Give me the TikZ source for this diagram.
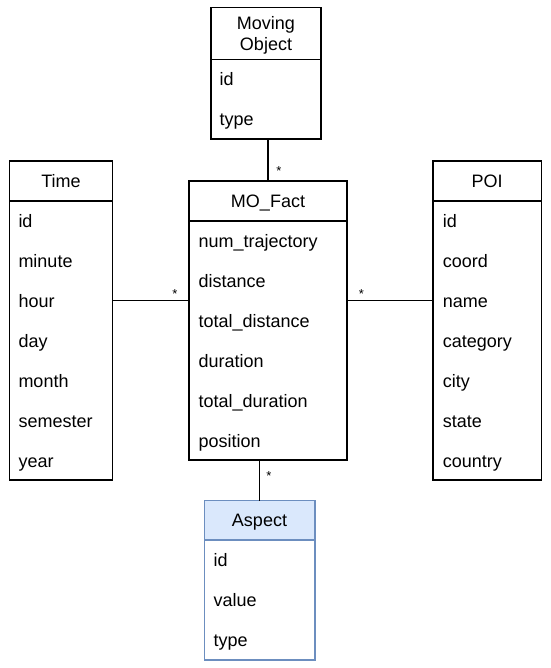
\documentclass[tikz,border=0pt]{standalone}
\usepackage{fontspec}
\setmainfont{Liberation Sans}
\definecolor{asfill}{HTML}{DAE8FC}
\definecolor{asdraw}{HTML}{6C8EBF}
\tikzset{
  box/.style={draw, line width=1.3pt, rectangle, inner sep=0pt, outer sep=0pt, anchor=north west},
  divider/.style={line width=1.3pt},
  item/.style={anchor=base west, inner sep=0pt, font=\fontsize{18}{21}\selectfont},
  ttl/.style={anchor=base, inner sep=0pt, font=\fontsize{18}{21}\selectfont},
  link/.style={line width=1.3pt},
  mult/.style={anchor=base, inner sep=0pt, font=\fontsize{13}{13}\selectfont},
}
\begin{document}
\begin{tikzpicture}[x=1pt,y=-1pt]
\useasboundingbox (0,0) rectangle (550,668);
% boxes
\node[box, minimum width=110pt, minimum height=131.5pt] (mo) at (211,7.5) {};
\node[box, minimum width=103pt, minimum height=319pt] (time) at (9.5,161) {};
\node[box, minimum width=158pt, minimum height=279pt] (fact) at (189,181) {};
\node[box, minimum width=108.5pt, minimum height=319pt] (poi) at (433,161) {};
\node[box, draw=asdraw, fill=white, minimum width=110.5pt, minimum height=159.5pt] (aspect) at (204.5,500.5) {};
% aspect header fill
\fill[asfill] (aspect.north west) rectangle (aspect.east |- 0,540);
% dividers
\draw[divider] (mo.west |- 0,59.5) -- (mo.east |- 0,59.5);
\draw[divider] (time.west |- 0,201) -- (time.east |- 0,201);
\draw[divider] (fact.west |- 0,221) -- (fact.east |- 0,221);
\draw[divider] (poi.west |- 0,201) -- (poi.east |- 0,201);
\draw[divider, draw=asdraw] (aspect.west |- 0,540) -- (aspect.east |- 0,540);
\draw[line width=1.3pt, draw=asdraw] (aspect.north west) rectangle (aspect.south east);
% titles
\node[ttl] (moT1) at (266,29.5) {Moving};
\node[ttl] (moT2) at (266,50.5) {Object};
\node[ttl] (timeT) at (61,187.5) {Time};
\node[ttl] (factT) at (268,207.5) {MO\_Fact};
\node[ttl] (poiT) at (487,187.5) {POI};
\node[ttl] (aspT) at (259.5,526) {Aspect};
% moving object items
\node[item] (mo1) at (219.5,85.5) {id};
\node[item] (mo2) at (219.5,125.5) {type};
% time items
\node[item] (t1) at (18.3,227) {id};
\node[item] (t2) at (18.3,267) {minute};
\node[item] (t3) at (18.3,307) {hour};
\node[item] (t4) at (18.3,347) {day};
\node[item] (t5) at (18.3,387) {month};
\node[item] (t6) at (18.3,427) {semester};
\node[item] (t7) at (18.3,467) {year};
% fact items
\node[item] (f1) at (198.3,247.5) {num\_trajectory};
\node[item] (f2) at (198.3,287.5) {distance};
\node[item] (f3) at (198.3,327.5) {total\_distance};
\node[item] (f4) at (198.3,367.5) {duration};
\node[item] (f5) at (198.3,407.5) {total\_duration};
\node[item] (f6) at (198.3,447.5) {position};
% poi items
\node[item] (p1) at (442.7,227) {id};
\node[item] (p2) at (442.7,267) {coord};
\node[item] (p3) at (442.7,307) {name};
\node[item] (p4) at (442.7,347) {category};
\node[item] (p5) at (442.7,387) {city};
\node[item] (p6) at (442.7,427) {state};
\node[item] (p7) at (442.7,467) {country};
% aspect items
\node[item] (a1) at (213.5,566.5) {id};
\node[item] (a2) at (213.5,606.5) {value};
\node[item] (a3) at (213.5,646.5) {type};
% connectors
\coordinate (hy) at (0,300.5);
\draw[link] (fact.north) -- (fact.north |- mo.south);
\draw[link] (time.east |- hy) -- (fact.west |- hy);
\draw[link] (fact.east |- hy) -- (poi.west |- hy);
\draw[link] (aspect.north) -- (aspect.north |- fact.south);
% multiplicities
\node[mult] (s1) at (279,176) {*};
\node[mult] (s2) at (175,298) {*};
\node[mult] (s3) at (361.5,298) {*};
\node[mult] (s4) at (269,480.5) {*};
\end{tikzpicture}
\end{document}
